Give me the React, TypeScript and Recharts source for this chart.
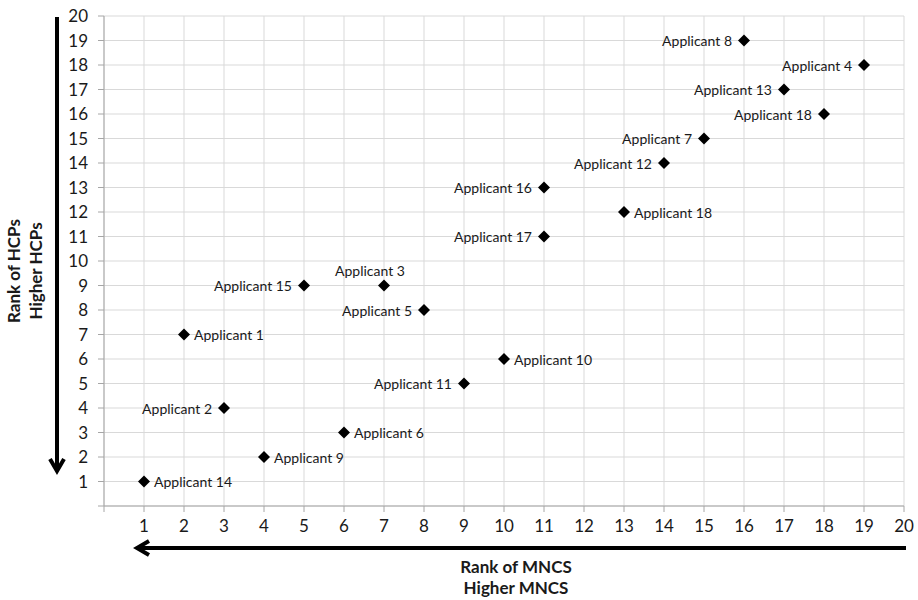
// Applicant ranking scatter — HCP rank vs MNCS rank, one diamond per applicant,
// with the name written next to each marker. Arrows + two-line axis titles are
// drawn as plain SVG through <Customized>.

import {
  CartesianGrid,
  Customized,
  LabelList,
  Scatter,
  ScatterChart,
  XAxis,
  YAxis,
} from "recharts";

const NAMES = [
  "Applicant 8",
  "Applicant 4",
  "Applicant 13",
  "Applicant 18",
  "Applicant 7",
  "Applicant 12",
  "Applicant 16",
  "Applicant 18",
  "Applicant 17",
  "Applicant 15",
  "Applicant 3",
  "Applicant 5",
  "Applicant 1",
  "Applicant 10",
  "Applicant 11",
  "Applicant 2",
  "Applicant 6",
  "Applicant 9",
  "Applicant 14",
];
const MNCS_RANK = [16, 19, 17, 18, 15, 14, 11, 13, 11, 5, 7, 8, 2, 10, 9, 3, 6, 4, 1];
const HCP_RANK = [19, 18, 17, 16, 15, 14, 13, 12, 11, 9, 9, 8, 7, 6, 5, 4, 3, 2, 1];
const TICKS = [0, 1, 2, 3, 4, 5, 6, 7, 8, 9, 10, 11, 12, 13, 14, 15, 16, 17, 18, 19, 20];

// which side of the marker the name goes on (Excel put them by hand)
const LABEL_SIDE: Record<number, "left" | "right" | "top"> = {
  7: "right",
  10: "top",
  12: "right",
  13: "right",
  16: "right",
  17: "right",
  18: "right",
};

const points = NAMES.map((name, i) => ({
  name,
  x: MNCS_RANK[i],
  y: HCP_RANK[i],
  idx: i,
}));

const FONT = "Lato, 'Open Sans', sans-serif";
const INK = "#1a1a1a";
const GRID = "#d9d9d9";
const AXIS = "#a6a6a6";

const tick = { fill: INK, fontSize: 17, fontFamily: FONT };
const hideZero = (v: number) => (v === 0 ? "" : String(v));

function Diamond(p: { cx?: number; cy?: number }) {
  const { cx = 0, cy = 0 } = p;
  const r = 6;
  return (
    <polygon
      points={`${cx},${cy - r} ${cx + r},${cy} ${cx},${cy + r} ${cx - r},${cy}`}
      fill="#000"
    />
  );
}

function NameLabel(p: any) {
  const { x, y, width, height, value, index } = p;
  const cx = x + width / 2;
  const cy = y + height / 2;
  const side = LABEL_SIDE[index] ?? "left";
  const common = { fontSize: 14, fontFamily: FONT, fill: INK, dominantBaseline: "central" as const };
  if (side === "right")
    return (
      <text x={cx + 10} y={cy} textAnchor="start" {...common}>
        {value}
      </text>
    );
  if (side === "top")
    return (
      <text x={cx - 14} y={cy - 15} textAnchor="middle" {...common}>
        {value}
      </text>
    );
  return (
    <text x={cx - 12} y={cy} textAnchor="end" {...common}>
      {value}
    </text>
  );
}

function Decorations() {
  const title = { fontSize: 17, fontWeight: 700, fontFamily: FONT, fill: INK, textAnchor: "middle" as const };
  return (
    <g>
      {/* vertical arrow, pointing down */}
      <line x1={57} y1={17} x2={57} y2={470} stroke="#000" strokeWidth={4} />
      <polyline points="50,459 57,471 64,459" fill="none" stroke="#000" strokeWidth={4} />
      {/* horizontal arrow, pointing left */}
      <line x1={906} y1={548} x2={138} y2={548} stroke="#000" strokeWidth={4} />
      <polyline points="149,541 137,548 149,555" fill="none" stroke="#000" strokeWidth={4} />
      <text transform="translate(20,271) rotate(-90)" {...title}>
        Rank of HCPs
      </text>
      <text transform="translate(42,271) rotate(-90)" {...title}>
        Higher HCPs
      </text>
      <text x={516} y={573} {...title}>
        Rank of MNCS
      </text>
      <text x={516} y={594} {...title}>
        Higher MNCS
      </text>
    </g>
  );
}

export default function App() {
  return (
    <div style={{ position: "absolute", left: 0, top: 0, background: "#fff" }}>
      <ScatterChart width={918} height={600} margin={{ top: 16, right: 14, bottom: 64, left: 0 }}>
        <CartesianGrid stroke={GRID} horizontalValues={TICKS} verticalValues={TICKS} />
        <XAxis
          type="number"
          dataKey="x"
          domain={[0, 20]}
          ticks={TICKS}
          interval={0}
          tickFormatter={hideZero}
          tick={tick}
          tickSize={6}
          tickMargin={8}
          height={30}
          stroke={AXIS}
          allowDataOverflow
        />
        <YAxis
          type="number"
          dataKey="y"
          domain={[0, 20]}
          ticks={TICKS}
          interval={0}
          tickFormatter={hideZero}
          tick={tick}
          tickSize={6}
          tickMargin={10}
          width={104}
          stroke={AXIS}
          allowDataOverflow
        />
        <Scatter data={points} shape={<Diamond />} isAnimationActive={false}>
          <LabelList dataKey="name" content={<NameLabel />} />
        </Scatter>
        <Customized component={Decorations} />
      </ScatterChart>
    </div>
  );
}
